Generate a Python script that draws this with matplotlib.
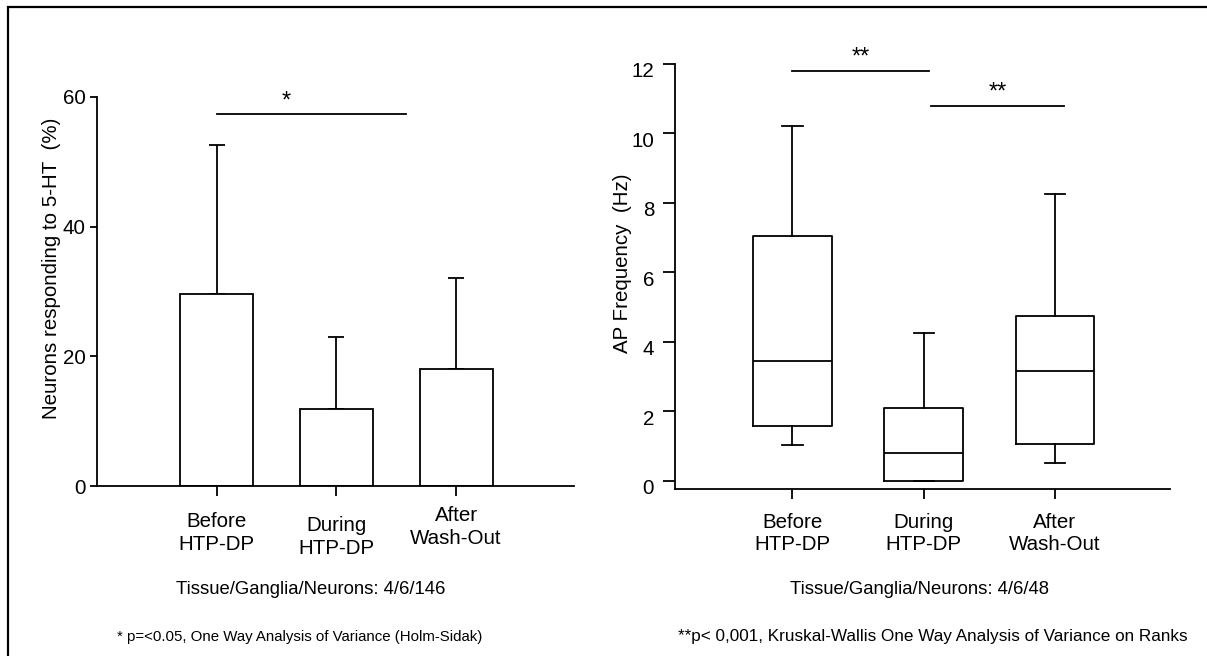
import numpy as np
import matplotlib.pyplot as plt
import matplotlib.patches as mp
from matplotlib.transforms import ScaledTranslation

plt.rcParams['font.family'] = ['Liberation Sans', 'DejaVu Sans']

# Categorias (iguais nos dois paineis)
categorias = ['Before\nHTP-DP', 'During\nHTP-DP', 'After\nWash-Out']

# Painel esquerdo: media e desvio (so para cima) dos neuronios que respondem
media_resp = [29.6, 11.8, 18.1]
desvio_resp = [23.0, 11.2, 14.0]
sig_esq = (0, 1.58, 57.4, '*')

# Painel direito: estatisticas dos boxplots da frequencia de PA
whis_min = [1.03, 0.0, 0.52]
quartil1 = [1.58, 0.0, 1.07]
mediana = [3.44, 0.79, 3.16]
quartil3 = [7.03, 2.09, 4.75]
whis_max = [10.2, 4.24, 8.24]
sig_dir = [(0, 1.04, 11.79, '**'), (1.055, 2.07, 10.77, '**')]

rodape_esq = 'Tissue/Ganglia/Neurons: 4/6/146'
rodape_dir = 'Tissue/Ganglia/Neurons: 4/6/48'
nota_esq = '* p=<0.05, One Way Analysis of Variance (Holm-Sidak)'
nota_dir = '**p< 0,001, Kruskal-Wallis One Way Analysis of Variance on Ranks'

W, H = 1207, 656
fig = plt.figure(figsize=(W / 100, H / 100), dpi=100)

def caixa(x0, x1, y_top, y_bot):
    # converte pixels para coordenadas da figura
    return [x0 / W, 1 - y_bot / H, (x1 - x0) / W, (y_bot - y_top) / H]

def desloca(texto, dy):
    # desloca um texto na vertical (dy em pixels, positivo para cima)
    texto.set_transform(texto.get_transform() + ScaledTranslation(0, dy / 100, fig.dpi_scale_trans))

lw = 1.3
fs = 14.8
pos = np.arange(3)

# ---------------- painel esquerdo ----------------
ax1 = fig.add_axes(caixa(97, 574, 97, 486))
ax1.bar(pos, media_resp, width=0.61, color='white', edgecolor='black', linewidth=lw, zorder=2)
ax1.errorbar(pos, media_resp, yerr=[np.zeros(3), desvio_resp], fmt='none',
             ecolor='black', elinewidth=lw, capsize=5.8, capthick=lw, zorder=1)
ax1.set_xlim(-1.0, 2.985)
ax1.set_ylim(0, 60)
ax1.set_yticks([0, 20, 40, 60])
ax1.set_xticks(pos)
ax1.set_xticklabels(categorias, fontsize=fs, linespacing=1.25)
ax1.tick_params(axis='y', direction='out', length=5, width=lw, labelsize=fs, pad=3)
ax1.tick_params(axis='x', direction='out', length=7, width=lw, pad=12)
for s in ['top', 'right']:
    ax1.spines[s].set_visible(False)
for s in ['left', 'bottom']:
    ax1.spines[s].set_linewidth(lw)
ax1.set_ylabel('Neurons responding to 5-HT  (%)', fontsize=fs)
ax1.yaxis.set_label_coords(-0.075, 0.56)
# pequenos deslocamentos dos rotulos do eixo x
for lab, d in zip(ax1.get_xticklabels(), [0, -4, 6]):
    desloca(lab, d)

a, b, y, txt = sig_esq
ax1.plot([a, b], [y, y], color='black', lw=lw, clip_on=False)
ax1.text((a + b) / 2 - 0.21, y + 0.2, txt, ha='center', va='bottom', fontsize=17)

# ---------------- painel direito ----------------
ax2 = fig.add_axes(caixa(675, 1170, 63.7, 489))
stats = []
for i in range(3):
    stats.append(dict(med=mediana[i], q1=quartil1[i], q3=quartil3[i],
                      whislo=whis_min[i], whishi=whis_max[i], fliers=[]))
props = dict(color='black', linewidth=lw)
ax2.bxp(stats, positions=pos, widths=0.6, capwidths=0.155, showfliers=False,
        boxprops=props, whiskerprops=props, capprops=props, medianprops=props)
ax2.set_xlim(-0.895, 2.876)
ax2.set_ylim(-0.239, 12)
ax2.set_yticks(np.arange(0, 13, 2))
ax2.set_xticks(pos)
ax2.set_xticklabels(categorias, fontsize=fs, linespacing=1.25)
ax2.tick_params(axis='y', direction='out', length=9, width=lw, labelsize=fs, pad=6)
ax2.tick_params(axis='x', direction='out', length=7, width=lw, pad=10)
for s in ['top', 'right']:
    ax2.spines[s].set_visible(False)
for s in ['left', 'bottom']:
    ax2.spines[s].set_linewidth(lw)
for lab in ax2.get_yticklabels():
    desloca(lab, -6)
ax2.set_ylabel('AP Frequency  (Hz)', fontsize=fs)
ax2.yaxis.set_label_coords(-0.087, 0.53)

for a, b, y, txt in sig_dir:
    ax2.plot([a, b], [y, y], color='black', lw=lw, clip_on=False)
    ax2.text((a + b) / 2, y + 0.08, txt, ha='center', va='bottom', fontsize=17)

# ---------------- textos de rodape ----------------
fig.text(311 / W, 1 - 590 / H, rodape_esq, ha='center', va='center', fontsize=13.3)
fig.text(920 / W, 1 - 590 / H, rodape_dir, ha='center', va='center', fontsize=13.3)
fig.text(300 / W, 1 - 637 / H, nota_esq, ha='center', va='center', fontsize=10.8)
fig.text(933 / W, 1 - 637 / H, nota_dir, ha='center', va='center', fontsize=12.3)

# moldura em volta da figura (sai pela direita e por baixo)
moldura = mp.Rectangle((8 / W, -0.1), 1.2, 1 - 7 / H + 0.1, transform=fig.transFigure,
                       fill=False, edgecolor='black', linewidth=1.6, clip_on=False)
fig.patches.append(moldura)

plt.savefig('out.png', dpi=100)
